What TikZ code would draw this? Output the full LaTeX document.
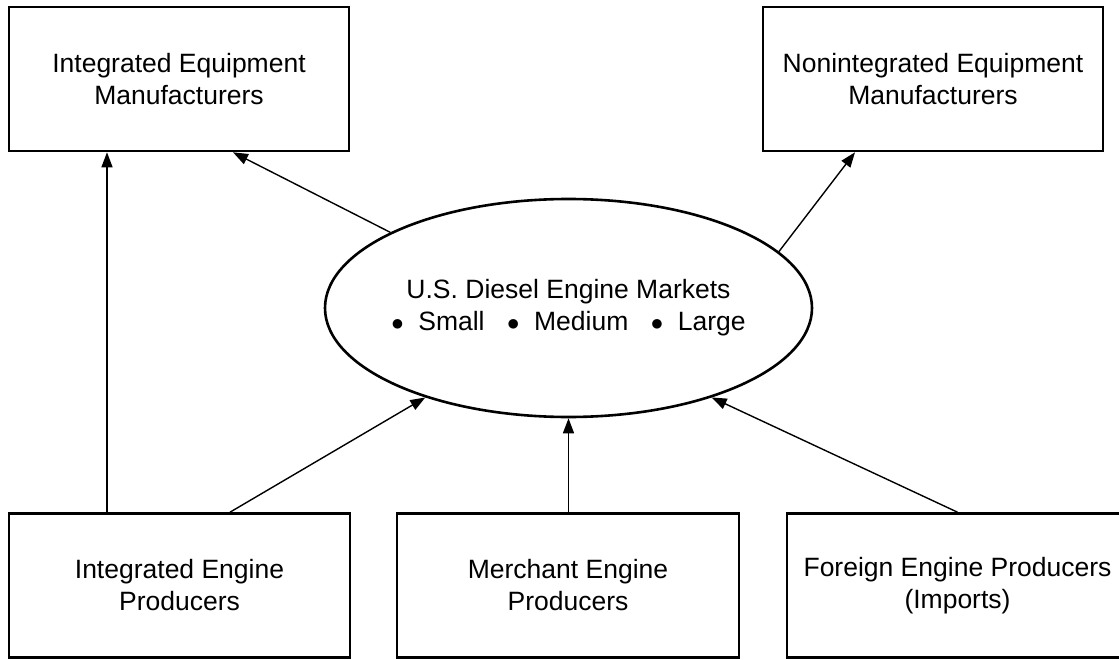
\documentclass[tikz,border=0pt]{standalone}
\usepackage{fontspec}
\setmainfont{Liberation Sans}
\usetikzlibrary{shapes.geometric,arrows.meta}
\newcommand{\mybul}{$\bullet$\hspace{0.55em}}
\begin{document}
\begin{tikzpicture}[x=1bp,y=-1bp,
  txt/.style={font=\fontsize{26.5bp}{32bp}\selectfont, align=center, text=black},
  box/.style={txt, draw=black, line width=2.6bp, rectangle, inner sep=0pt,
    minimum width=340bp, minimum height=144bp},
  ell/.style={draw=black, line width=2.6bp, ellipse, inner sep=0pt,
    minimum width=487bp, minimum height=218bp},
  arr/.style={line width=1.4bp, draw=black, -{Triangle[length=15bp,width=11bp]}}]
\useasboundingbox (0,0) rectangle (1119,660);
\node[box] (iem) at (179,79) {Integrated Equipment\\Manufacturers};
\node[box] (niem) at (933,79) {Nonintegrated Equipment\\Manufacturers};
\node[box, minimum width=341bp] (iep) at (179.5,585.5) {Integrated Engine\\Producers};
\node[box, minimum width=342bp] (mep) at (568,585.5) {Merchant Engine\\Producers};
\node[box, minimum width=341bp] (fep) at (957.5,585.5) {Foreign Engine Producers\\(Imports)};
\node[ell] (mkt) at (568.5,308) {};
\node[txt, inner sep=0pt] (mkttext) at (mkt.center) {U.S. Diesel Engine Markets\\\mybul Small\hspace{0.85em}\mybul Medium\hspace{0.85em}\mybul Large};
% connectors
\draw[arr] ([xshift=-72.5bp]iep.north) coordinate (a1) -- (a1 |- iem.south);
\draw[arr] ([xshift=50.5bp]iep.north) -- (mkt.212);
\draw[arr] (mep.north -| mkt.south) -- (mkt.south);
\draw[arr] (fep.north) -- (mkt.328.4);
\draw[arr] (mkt.157) -- ([xshift=54bp]iem.south);
\draw[arr] (mkt.15.5) -- ([xshift=-78bp]niem.south);
\end{tikzpicture}
\end{document}
